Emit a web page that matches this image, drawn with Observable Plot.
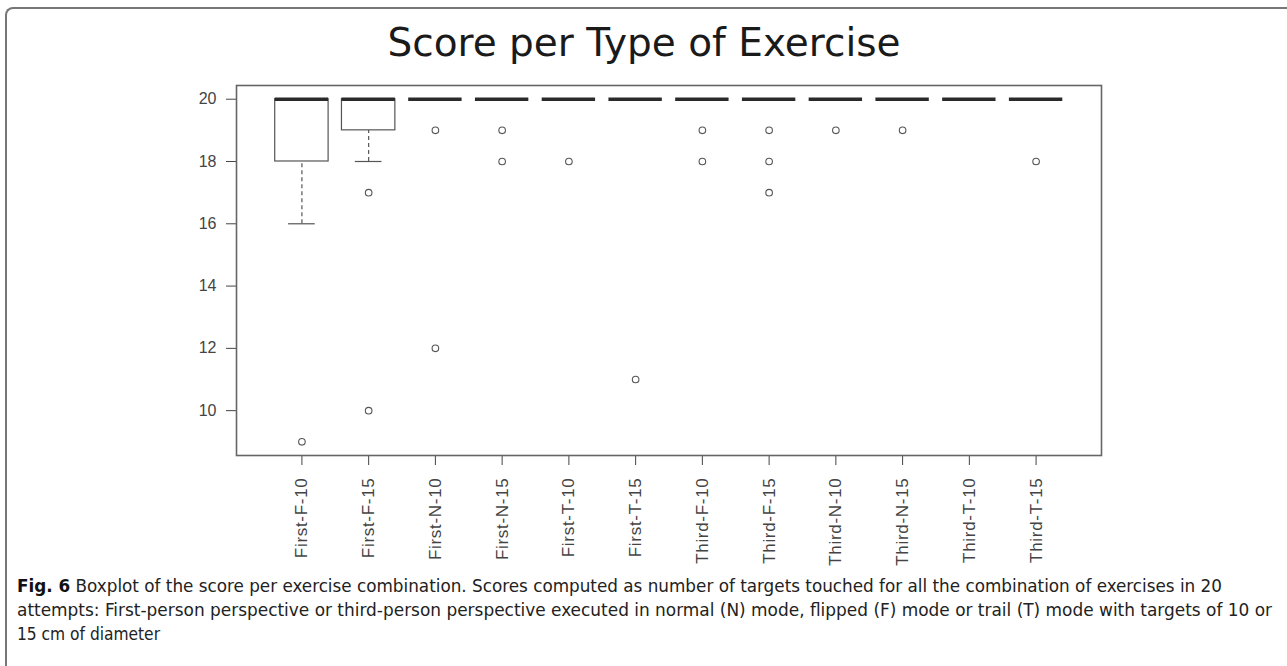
<!DOCTYPE html>
<html><head><meta charset="utf-8">
<script src="https://cdn.jsdelivr.net/npm/d3@7"></script>
<script src="https://cdn.jsdelivr.net/npm/@observablehq/plot@0.6"></script>
<style>
html,body{margin:0;padding:0;background:#fff;overflow:hidden;width:1287px;height:666px}
#wrap{position:relative;width:1287px;height:666px;overflow:hidden;background:#fff}
#frame{position:absolute;left:5px;top:7px;width:1400px;height:800px;border-left:2px solid #777;border-top:2px solid #777;border-top-left-radius:8px}
#title{position:absolute;top:20px;left:0;width:1288px;text-align:center;font-family:"DejaVu Sans",sans-serif;font-size:39px;line-height:46px;color:#1a1a1a}
#chart{position:absolute;left:0;top:60px}
#caption{position:absolute;left:17px;top:574px;font-family:"Liberation Sans Narrow","DejaVu Sans Condensed","Noto Sans",sans-serif;font-stretch:condensed;font-size:17px;line-height:24px;color:#222;white-space:nowrap}
#caption div{transform-origin:0 50%;width:max-content}
#caption b{color:#111}
</style>
</head><body>
<div id="wrap">
  <div id="frame"></div>
  <div id="title">Score per Type of Exercise</div>
  <div id="chart"></div>
  <div id="caption">
    <div id="cap1"><b>Fig. 6</b> Boxplot of the score per exercise combination. Scores computed as number of targets touched for all the combination of exercises in 20</div>
    <div id="cap2">attempts: First-person perspective or third-person perspective executed in normal (N) mode, flipped (F) mode or trail (T) mode with targets of 10 or</div>
    <div id="cap3">15 cm of diameter</div>
  </div>
</div>
<script>
// ---- data ----
const categories = ["First-F-10","First-F-15","First-N-10","First-N-15","First-T-10","First-T-15",
                    "Third-F-10","Third-F-15","Third-N-10","Third-N-15","Third-T-10","Third-T-15"];
const lowerWhisker = [16, 18, 20, 20, 20, 20, 20, 20, 20, 20, 20, 20];
const q1           = [18, 19, 20, 20, 20, 20, 20, 20, 20, 20, 20, 20];
const median       = [20, 20, 20, 20, 20, 20, 20, 20, 20, 20, 20, 20];
const q3           = [20, 20, 20, 20, 20, 20, 20, 20, 20, 20, 20, 20];
const upperWhisker = [20, 20, 20, 20, 20, 20, 20, 20, 20, 20, 20, 20];
const outliers = [[9], [17, 10], [19, 12], [19, 18], [18], [11], [19, 18], [19, 18, 17], [19], [19], [], [18]];
const yTicks = [10, 12, 14, 16, 18, 20];

// ---- tables built from the arrays ----
const boxes = categories.map((c, i) => ({
  cat: c, pos: i + 1,
  lw: lowerWhisker[i], q1: q1[i], med: median[i], q3: q3[i], uw: upperWhisker[i]
}));
const outs = outliers.flatMap((vals, i) => vals.map(v => ({pos: i + 1, v})));
const half = 0.4, staple = 0.2;
const ink = "#555";

const chart = Plot.plot({
  width: 1287,
  height: 515,
  marginLeft: 236,
  marginRight: 186,
  marginTop: 25,
  marginBottom: 120,
  style: {fontFamily: "'Liberation Sans', Arial, sans-serif", fontSize: "16px", color: "#444", background: "transparent"},
  x: {domain: [0.02, 12.98], ticks: boxes.map(d => d.pos), tickFormat: p => categories[p - 1],
      tickRotate: -90, tickSize: 10, tickPadding: 12, label: null},
  y: {domain: [8.56, 20.44], ticks: yTicks, tickSize: 10, tickPadding: 10, label: null},
  marks: [
    // whiskers (dashed)
    Plot.ruleX(boxes.filter(d => d.lw < d.q1), {x: "pos", y1: "lw", y2: "q1", stroke: ink, strokeDasharray: "4,3", strokeWidth: 1.2}),
    Plot.ruleX(boxes.filter(d => d.uw > d.q3), {x: "pos", y1: "q3", y2: "uw", stroke: ink, strokeDasharray: "4,3", strokeWidth: 1.2}),
    // staples
    Plot.ruleY(boxes, {y: "lw", x1: d => d.pos - staple, x2: d => d.pos + staple, stroke: ink, strokeWidth: 1.2}),
    Plot.ruleY(boxes, {y: "uw", x1: d => d.pos - staple, x2: d => d.pos + staple, stroke: ink, strokeWidth: 1.2}),
    // boxes
    Plot.rect(boxes, {x1: d => d.pos - half, x2: d => d.pos + half, y1: "q1", y2: "q3", fill: "white", stroke: ink, strokeWidth: 1.2}),
    // medians
    Plot.ruleY(boxes, {y: "med", x1: d => d.pos - half, x2: d => d.pos + half, stroke: "#2a2a2a", strokeWidth: 3.6}),
    // outliers
    Plot.dot(outs, {x: "pos", y: "v", r: 3.3, stroke: ink, strokeWidth: 1.1, fill: "none"}),
    Plot.frame({stroke: "#666", strokeWidth: 1.6})
  ]
});
document.getElementById("chart").appendChild(chart);
chart.querySelectorAll('g[aria-label="x-axis tick label"] text').forEach(t => {
  t.style.fontSize = "17px"; t.style.letterSpacing = "0.7px";
});

// fit each caption line to the reference line length
const targets = {cap1: 1205, cap2: 1255, cap3: 143};
for (const id in targets) {
  const el = document.getElementById(id);
  const w = el.getBoundingClientRect().width;
  el.style.transform = `scaleX(${targets[id] / w})`;
}
</script>
</body></html>
